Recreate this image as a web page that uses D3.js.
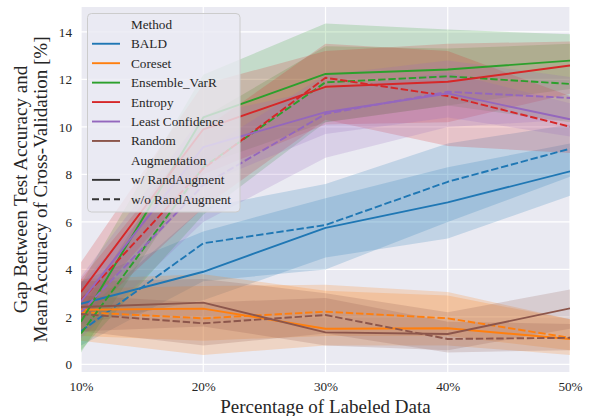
<!DOCTYPE html>
<html>
<head>
<meta charset="utf-8">
<script src="https://cdn.jsdelivr.net/npm/d3@7"></script>
<style>
  html, body { margin: 0; padding: 0; background: #ffffff; }
  svg { display: block; }
  svg text { font-family: "Liberation Serif", "Times New Roman", serif !important; fill: #262626; }
</style>
</head>
<body>
<svg id="chart" width="589" height="416"></svg>
<script>
// Labeled-data budget on the x axis (percent)
const percents = [10, 20, 30, 40, 50];
const xTickLabels = ["10%", "20%", "30%", "40%", "50%"];
const yTicks = [0, 2, 4, 6, 8, 10, 12, 14];

const methods = ["BALD", "Coreset", "Ensemble_VarR", "Entropy", "Least Confidence", "Random"];
const methodColors = ["#1f77b4", "#ff7f0e", "#2ca02c", "#d62728", "#9467bd", "#8c564b"];
const augmentations = ["w/ RandAugment", "w/o RandAugment"];

// Mean gap per method (rows follow `methods`), with RandAugment
const meanWith = [
  [2.55, 3.90, 5.75, 6.82, 8.13],
  [2.30, 2.35, 1.50, 1.52, 1.07],
  [1.80, 10.40, 12.23, 12.42, 12.79],
  [3.05, 9.90, 11.69, 11.90, 12.59],
  [2.65, 9.15, 10.62, 11.41, 10.32],
  [2.42, 2.60, 1.35, 1.28, 2.36]
];
const lowWith = [
  [1.70, 2.70, 4.50, 5.30, 7.10],
  [1.00, 0.40, 0.80, 0.80, 0.40],
  [0.50, 8.40, 10.20, 10.90, 11.60],
  [2.10, 8.00, 10.10, 10.20, 11.40],
  [1.80, 7.60, 9.70, 10.40, 9.60],
  [1.40, 1.60, 0.80, 0.60, 1.50]
];
const highWith = [
  [3.50, 5.60, 7.00, 8.30, 9.30],
  [3.60, 3.80, 3.10, 2.90, 1.90],
  [3.40, 12.20, 14.35, 14.10, 13.90],
  [4.30, 11.80, 13.20, 13.50, 13.60],
  [3.70, 10.50, 11.60, 12.30, 11.00],
  [3.50, 3.60, 3.00, 2.20, 3.15]
];

// Mean gap per method, without RandAugment
const meanWithout = [
  [1.40, 5.10, 5.87, 7.69, 9.08],
  [2.20, 1.94, 2.22, 1.94, 1.12],
  [1.30, 8.30, 11.88, 12.13, 11.81],
  [2.70, 8.24, 12.07, 11.30, 10.01],
  [2.20, 7.55, 10.55, 11.48, 11.22],
  [2.12, 1.73, 2.08, 1.07, 1.12]
];
const lowWithout = [
  [0.80, 3.50, 4.00, 6.00, 7.90],
  [1.20, 1.00, 1.20, 1.20, 0.60],
  [0.60, 6.30, 10.20, 10.90, 10.20],
  [1.80, 6.60, 10.30, 9.20, 8.90],
  [1.10, 6.00, 8.70, 10.00, 10.30],
  [1.40, 0.80, 1.30, 0.50, 0.60]
];
const highWithout = [
  [2.10, 6.60, 7.60, 9.30, 10.10],
  [3.20, 3.30, 3.35, 3.05, 1.90],
  [2.30, 10.40, 13.40, 13.30, 13.50],
  [3.60, 9.90, 13.50, 13.20, 11.30],
  [3.40, 9.00, 12.20, 12.80, 12.10],
  [2.90, 2.60, 2.80, 1.80, 1.70]
];

const svg = d3.select("#chart");
const plot = { left: 81, right: 570, top: 7, bottom: 372 };
const serif = "'Liberation Serif', 'Times New Roman', serif";

const x = d3.scaleLinear().domain([10, 50]).range([plot.left, plot.right]);
const y = d3.scaleLinear().domain([-0.32, 15.05]).range([plot.bottom, plot.top]);

// Axes background (darkgrid)
svg.append("rect")
  .attr("x", plot.left).attr("y", plot.top)
  .attr("width", plot.right - plot.left).attr("height", plot.bottom - plot.top)
  .attr("fill", "#eaeaf2");

svg.append("defs").append("clipPath").attr("id", "plotClip")
  .append("rect")
  .attr("x", plot.left).attr("y", plot.top)
  .attr("width", plot.right - plot.left).attr("height", plot.bottom - plot.top);

// Grid lines
const grid = svg.append("g").attr("stroke", "#ffffff").attr("stroke-width", 1.2);
grid.selectAll("line.gx").data(percents).join("line")
  .attr("x1", d => x(d)).attr("x2", d => x(d))
  .attr("y1", plot.top).attr("y2", plot.bottom);
grid.selectAll("line.gy").data(yTicks).join("line")
  .attr("x1", plot.left).attr("x2", plot.right)
  .attr("y1", d => y(d)).attr("y2", d => y(d));

// Axes with tick labels only (no spines, no tick marks)
const xAxis = d3.axisBottom(x).tickValues(percents)
  .tickFormat((d, i) => xTickLabels[i]).tickSize(0).tickPadding(10);
const gx = svg.append("g").attr("transform", `translate(0,${plot.bottom})`)
  .call(xAxis).attr("font-family", serif);
gx.select(".domain").remove();
gx.selectAll("text").attr("font-size", 13.2).style("font-family", serif);

const yAxis = d3.axisLeft(y).tickValues(yTicks).tickSize(0).tickPadding(9);
const gy = svg.append("g").attr("transform", `translate(${plot.left},0)`)
  .call(yAxis).attr("font-family", serif);
gy.select(".domain").remove();
gy.selectAll("text").attr("font-size", 13.2).style("font-family", serif);

// Build series list: for each method, with and without augmentation
const series = [];
methods.forEach((m, i) => {
  series.push({ method: m, color: methodColors[i], dashed: false,
    mean: meanWith[i], lo: lowWith[i], hi: highWith[i] });
  series.push({ method: m, color: methodColors[i], dashed: true,
    mean: meanWithout[i], lo: lowWithout[i], hi: highWithout[i] });
});

const marks = svg.append("g").attr("clip-path", "url(#plotClip)");

// Confidence bands first, then lines on top
const area = d3.area()
  .x((d, j) => x(percents[j]))
  .y0(d => y(d[0]))
  .y1(d => y(d[1]));

marks.append("g").selectAll("path").data(series).join("path")
  .attr("d", s => area(s.lo.map((v, j) => [v, s.hi[j]])))
  .attr("fill", s => s.color)
  .attr("fill-opacity", 0.2)
  .attr("stroke", "none");

const line = d3.line().x((d, j) => x(percents[j])).y(d => y(d));

marks.append("g").selectAll("path").data(series).join("path")
  .attr("d", s => line(s.mean))
  .attr("fill", "none")
  .attr("stroke", s => s.color)
  .attr("stroke-width", 1.9)
  .attr("stroke-linejoin", "round")
  .attr("stroke-dasharray", s => s.dashed ? "7.4,2.8" : null);

// Axis titles
svg.append("text")
  .attr("x", (plot.left + plot.right) / 2).attr("y", 413)
  .attr("text-anchor", "middle").attr("font-size", 19)
  .style("font-family", serif)
  .text("Percentage of Labeled Data");

const yMid = (plot.top + plot.bottom) / 2;
const yTitle = svg.append("text")
  .attr("transform", `translate(27,${yMid}) rotate(-90)`)
  .attr("text-anchor", "middle").attr("font-size", 19)
  .style("font-family", serif);
yTitle.append("tspan").attr("x", 0).attr("y", 0).text("Gap Between Test Accuracy and");
yTitle.append("tspan").attr("x", 0).attr("y", 20).text("Mean Accuracy of Cross-Validation [%]");

// Legend
const legend = svg.append("g");
legend.append("rect")
  .attr("x", 87.5).attr("y", 13.5).attr("width", 152.5).attr("height", 198.5)
  .attr("rx", 4).attr("ry", 4)
  .attr("fill", "#eaeaf2").attr("fill-opacity", 0.8)
  .attr("stroke", "#cccccc").attr("stroke-width", 1);

const legendRows = [
  { label: "Method", color: null },
  ...methods.map((m, i) => ({ label: m, color: methodColors[i], dashed: false })),
  { label: "Augmentation", color: null },
  ...augmentations.map((a, i) => ({ label: a, color: "#333333", dashed: i === 1 }))
];

const rowY = d3.scaleLinear().domain([0, legendRows.length - 1]).range([24.3, 199.3]);

legendRows.forEach((r, i) => {
  const cy = rowY(i);
  if (r.color) {
    legend.append("line")
      .attr("x1", 92).attr("x2", 120).attr("y1", cy).attr("y2", cy)
      .attr("stroke", r.color).attr("stroke-width", 1.9)
      .attr("stroke-dasharray", r.dashed ? "7,4" : null);
  }
  legend.append("text")
    .attr("x", 131).attr("y", cy + 4.5)
    .attr("font-size", 13.2)
    .style("font-family", serif)
    .text(r.label);
});
</script>
</body>
</html>
